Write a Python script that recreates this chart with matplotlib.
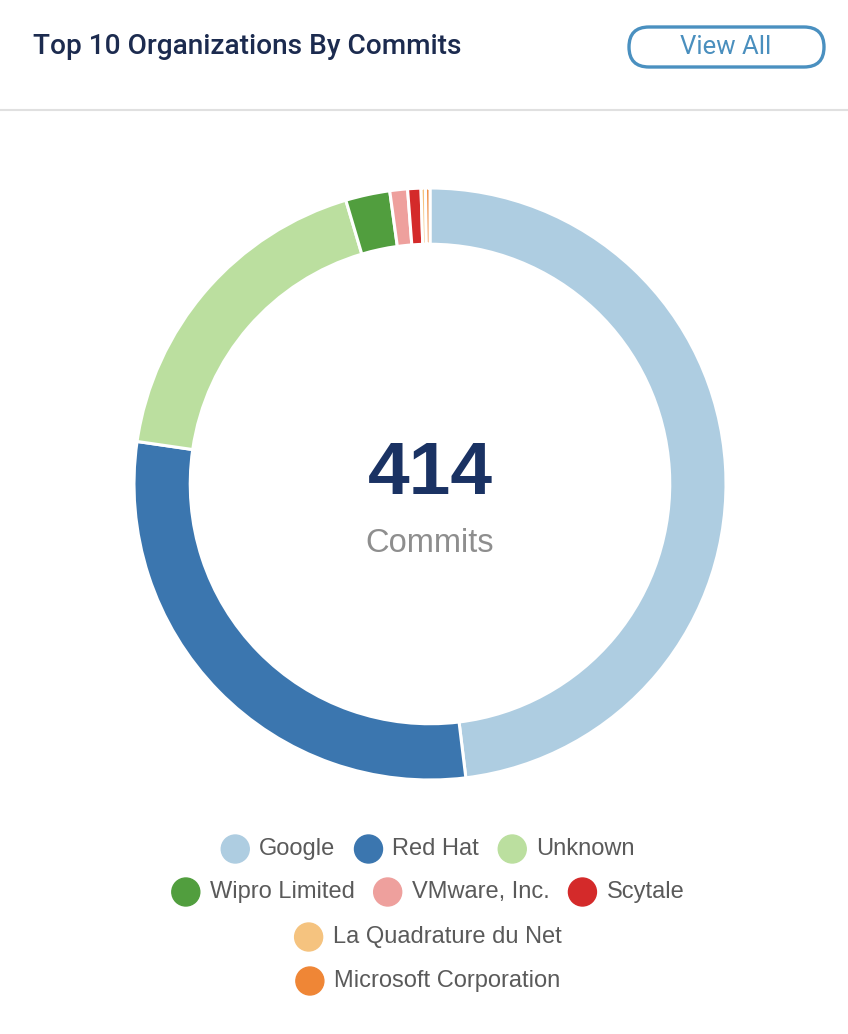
import matplotlib
matplotlib.use("Agg")
import matplotlib.pyplot as plt
from matplotlib.patches import FancyBboxPatch, Circle

# data
orgs = ["Google", "Red Hat", "Unknown", "Wipro Limited", "VMware, Inc.",
        "Scytale", "La Quadrature du Net", "Microsoft Corporation"]
commits = [199, 121, 75, 10, 4, 3, 1, 1]
colors = ["#aecde1", "#3b76af", "#bbdf9f", "#519e3e", "#eea09d",
          "#d42a2a", "#f5c37f", "#ef8636"]
legend_rows = [[0, 1, 2], [3, 4, 5], [6], [7]]
total = sum(commits)

W, H = 848, 1034
fig = plt.figure(figsize=(W / 100, H / 100), dpi=100)
fig.patch.set_facecolor("white")

# overlay axes in pixel coords (y down)
ov = fig.add_axes([0, 0, 1, 1])
ov.set_xlim(0, W)
ov.set_ylim(H, 0)
ov.axis("off")

# header
ov.text(33, 46, "Top 10 Organizations By Commits", fontsize=20.2, color="#1c2b4f",
        family="Roboto", fontweight="medium", va="center", ha="left")
btn = FancyBboxPatch((629, 27), 195, 40, boxstyle="round,pad=0,rounding_size=20",
                     facecolor="white", edgecolor="#4a90c0", linewidth=2.4)
ov.add_patch(btn)
ov.text(726, 47, "View All", fontsize=18.5, color="#4a8fbe", family="Roboto",
        va="center", ha="center")
ov.plot([0, W], [110, 110], color="#e0e0e0", linewidth=1.5)

# donut
cx, cy, r = 430, 484, 296
ax = fig.add_axes([(cx - r) / W, (H - cy - r) / H, 2 * r / W, 2 * r / H])
ax.pie(commits, colors=colors, startangle=90, counterclock=False, radius=1,
       wedgeprops=dict(width=0.19, edgecolor="white", linewidth=2.2))
ax.set_xlim(-1, 1)
ax.set_ylim(-1, 1)
ax.set_aspect("equal")
ax.axis("off")

ov.text(cx, 474, str(total), fontsize=54, fontweight="bold", color="#1a3263",
        family="Liberation Sans", ha="center", va="center")
ov.text(cx, 544, "Commits", fontsize=23.5, color="#8e8e8e",
        family="Liberation Sans", ha="center", va="center")

# legend rows, centred
fig.canvas.draw()
renderer = fig.canvas.get_renderer()
row_y = [849, 892, 937, 981]
center_x = 428
dot_r = 14
for row, y in zip(legend_rows, row_y):
    texts = []
    widths = []
    for i in row:
        t = ov.text(0, y, orgs[i], fontsize=17, color="#5a5a5a",
                    family="Liberation Sans", va="center", ha="left")
        widths.append(t.get_window_extent(renderer).width)
        texts.append(t)
    item_w = [2 * dot_r + 10 + w for w in widths]
    gap = 19
    total_w = sum(item_w) + gap * (len(row) - 1)
    x = center_x - total_w / 2
    for i, t, iw in zip(row, texts, item_w):
        ov.add_patch(Circle((x + dot_r, y), dot_r, color=colors[i]))
        t.set_x(x + 2 * dot_r + 10)
        x += iw + gap

fig.savefig("out.png", dpi=100, facecolor="white")
